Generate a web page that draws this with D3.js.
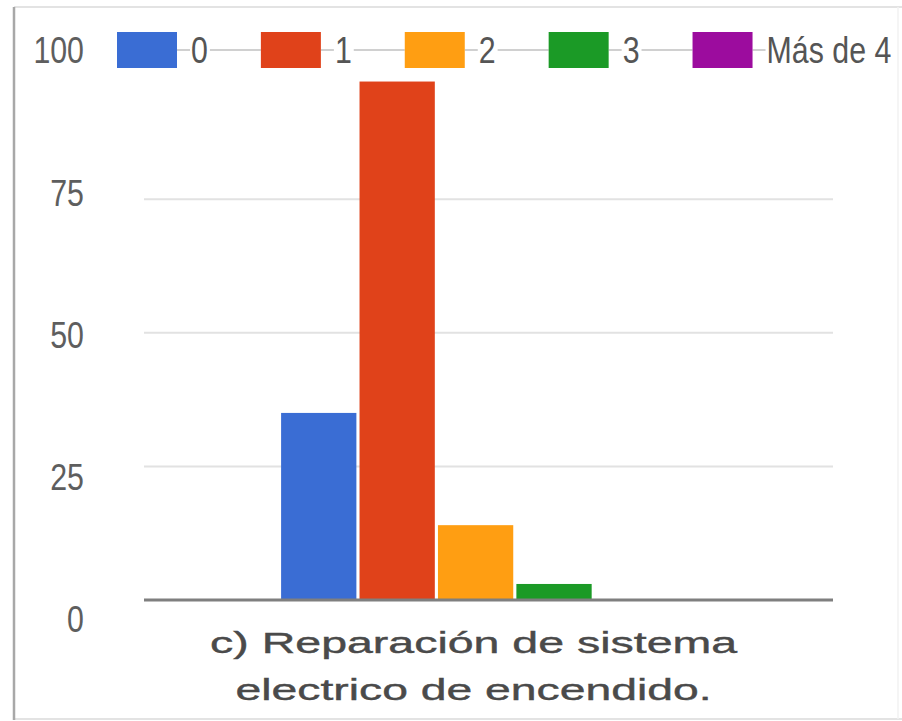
<!DOCTYPE html>
<html>
<head>
<meta charset="utf-8">
<script src="https://cdn.jsdelivr.net/npm/d3@7"></script>
<style>
  html, body { margin: 0; padding: 0; background: #ffffff; }
  svg { display: block; }
  text { font-family: "Liberation Sans", Arial, sans-serif; }
</style>
</head>
<body>
<svg id="chart" width="902" height="721"></svg>
<script>
// Data
const categories = ["c) Reparación de sistema electrico de encendido."];
const categoryLines = ["c) Reparación de sistema", "electrico de encendido."];
const series = ["0", "1", "2", "3", "Más de 4"];
const values = [35, 97, 14, 3, 0];
const colors = ["#3a6dd4", "#e0421a", "#ff9e12", "#1b9a26", "#9c0c9e"];
const tickValues = [0, 25, 50, 75, 100];
const gridValues = [25, 50, 75];

const svg = d3.select("#chart");
const W = 902, H = 721;

// Frame around the panel
svg.append("rect").attr("x", 0).attr("y", 0).attr("width", W).attr("height", H).attr("fill", "#ffffff");
svg.append("line").attr("x1", 14).attr("x2", W).attr("y1", 7).attr("y2", 7)
  .attr("stroke", "#e3e3e3").attr("stroke-width", 2);
svg.append("line").attr("x1", 14).attr("x2", W).attr("y1", 719).attr("y2", 719)
  .attr("stroke", "#e3e3e3").attr("stroke-width", 2);
svg.append("line").attr("x1", 898).attr("x2", 898).attr("y1", 7).attr("y2", 719)
  .attr("stroke", "#f2f2f2").attr("stroke-width", 1.5);
svg.append("line").attr("x1", 14).attr("x2", 14).attr("y1", 7).attr("y2", 720)
  .attr("stroke", "#a8a8a8").attr("stroke-width", 2.5);

// Scales
const plotLeft = 144, plotRight = 833;
const y = d3.scaleLinear().domain([0, 100]).range([600, 65.5]);
const yLabel = d3.scaleLinear().domain([0, 100]).range([619, 50]);

const x0 = d3.scaleBand().domain(categories).range([plotLeft, plotRight])
  .paddingInner(0).paddingOuter(0.3856).align(0.457);
const x1 = d3.scaleBand().domain(series).range([0, x0.bandwidth()])
  .paddingInner(0.04).paddingOuter(0);

// Gridlines
svg.append("g").selectAll("line").data(gridValues).join("line")
  .attr("x1", plotLeft).attr("x2", plotRight)
  .attr("y1", d => y(d)).attr("y2", d => y(d))
  .attr("stroke", "#e2e2e2").attr("stroke-width", 2);

// Y tick labels (horizontally condensed)
const xScaleText = 0.82;
svg.append("g").selectAll("text").data(tickValues).join("text")
  .attr("transform", d => `translate(84,${yLabel(d)}) scale(${xScaleText},1)`)
  .attr("text-anchor", "end")
  .attr("dy", "0.36em")
  .attr("font-size", 37)
  .attr("fill", "#5e5e5e")
  .text(d => d3.format("d")(d));

// Bars
const groups = svg.append("g").selectAll("g").data(categories).join("g")
  .attr("transform", d => `translate(${x0(d)},0)`);
groups.selectAll("rect").data(series.map((s, i) => ({ s, v: values[i], c: colors[i] })))
  .join("rect")
  .attr("x", d => x1(d.s))
  .attr("width", x1.bandwidth())
  .attr("y", d => y(d.v))
  .attr("height", d => y(0) - y(d.v))
  .attr("fill", d => d.c);

// Baseline
svg.append("line").attr("x1", plotLeft).attr("x2", plotRight)
  .attr("y1", y(0)).attr("y2", y(0))
  .attr("stroke", "#7f7f7f").attr("stroke-width", 3);

// Category label
const catCenter = x0(categories[0]) + x0.bandwidth() / 2 - 2;
const catWidths = [527, 476];
svg.append("g").selectAll("text").data(categoryLines).join("text")
  .attr("x", catCenter)
  .attr("y", (d, i) => 653 + i * 47)
  .attr("text-anchor", "middle")
  .attr("font-size", 29)
  .attr("fill", "#4a4a4a")
  .attr("stroke", "#4a4a4a")
  .attr("stroke-width", 0.4)
  .attr("textLength", (d, i) => catWidths[i])
  .attr("lengthAdjust", "spacingAndGlyphs")
  .text(d => d);

// Legend: swatch, label, and a thin connector between consecutive entries
const legendY = 50, swW = 60, swH = 36, swGap = 14, itemGap = 53;
const legend = svg.append("g");
const connectors = legend.append("g");
let cursor = 117;
const items = [];
series.forEach((s, i) => {
  const g = legend.append("g");
  g.append("rect").attr("x", cursor).attr("y", legendY - swH / 2)
    .attr("width", swW).attr("height", swH).attr("fill", colors[i]);
  const tx = cursor + swW + swGap;
  const t = g.append("text")
    .attr("transform", `translate(${tx},${legendY}) scale(${xScaleText},1)`)
    .attr("dy", "0.36em")
    .attr("font-size", 37)
    .attr("fill", "#555555")
    .text(s);
  const tw = t.node().getComputedTextLength() * xScaleText;
  items.push({ sw: cursor, text: tx, end: tx + tw });
  cursor = tx + tw + itemGap;
});
const segs = [];
items.forEach((it, i) => {
  segs.push([it.sw + swW, it.text - 1]);
  if (i < items.length - 1) segs.push([it.end + 2, items[i + 1].sw]);
});
connectors.selectAll("line").data(segs).join("line")
  .attr("x1", d => d[0]).attr("x2", d => d[1])
  .attr("y1", legendY).attr("y2", legendY)
  .attr("stroke", "#d0d0d0").attr("stroke-width", 2);
</script>
</body>
</html>
